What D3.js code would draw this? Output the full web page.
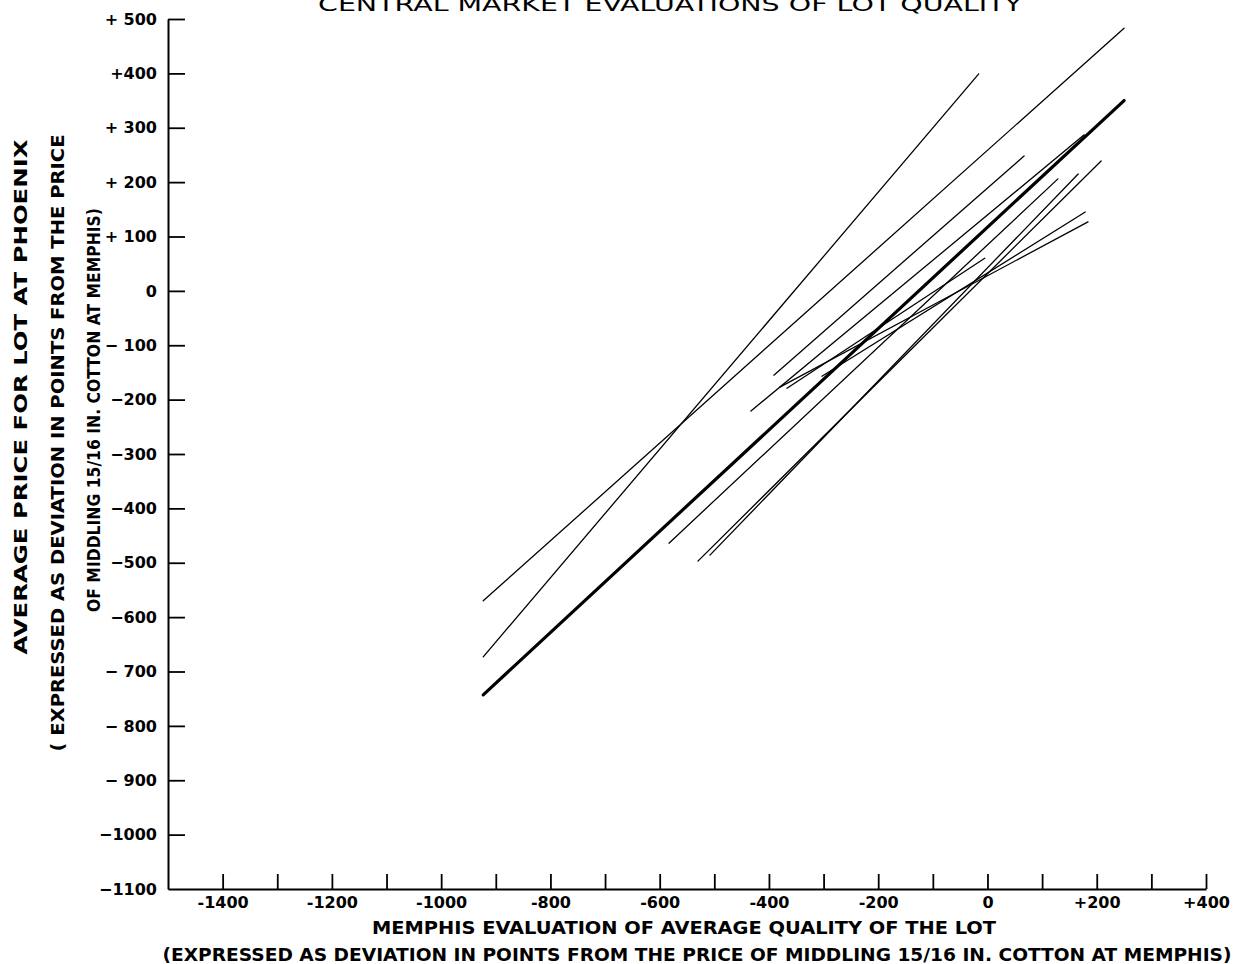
<!DOCTYPE html>
<html>
<head>
<meta charset="utf-8">
<script src="https://cdn.jsdelivr.net/npm/d3@7"></script>
<style>
  body { margin: 0; background: #fff; }
  svg text { font-family: "DejaVu Sans", sans-serif; fill: #000; }
</style>
</head>
<body>
<div id="chart"></div>
<script>
// lots: Memphis evaluation (x) vs Phoenix average price (y), each drawn as a segment
const lotNames = ["All lots", "Lot A", "Lot B", "Lot C", "Lot D", "Lot E", "Lot F", "Lot G", "Lot H", "Lot I", "Lot J"];
const memphisFrom = [-923, -923, -923, -583, -530, -508, -433, -391, -380, -367, -303];
const memphisTo   = [ 250,  250,  -16,  129,  208,  166,  177,   67,  184,   -5,  179];
const phoenixFrom = [-743, -570, -673, -464, -497, -486, -221, -155, -177, -179, -157];
const phoenixTo   = [ 350,  483,  399,  206,  239,  215,  287,  248,  127,   60,  145];

const xTickValues = [-1400, -1300, -1200, -1100, -1000, -900, -800, -700, -600, -500, -400, -300, -200, -100, 0, 100, 200, 300, 400];
const xTickLabels = ["-1400", "", "-1200", "", "-1000", "", "-800", "", "-600", "", "-400", "", "-200", "", "0", "", "+200", "", "+400"];
const yTickValues = [500, 400, 300, 200, 100, 0, -100, -200, -300, -400, -500, -600, -700, -800, -900, -1000, -1100];
const yTickLabels = ["+ 500", "+400", "+ 300", "+ 200", "+ 100", "0", "\u2212 100", "\u2212200", "\u2212300", "\u2212400", "\u2212500", "\u2212600", "\u2212 700", "\u2212 800", "\u2212 900", "\u22121000", "\u22121100"];

const width = 1236, height = 964;

const svg = d3.select("#chart").append("svg")
  .attr("width", width)
  .attr("height", height);

const x = d3.scaleLinear().domain([-1500, 400]).range([168, 1206]);
const y = d3.scaleLinear().domain([-1100, 500]).range([889, 19]);

// x axis, ticks point up into the plot
const xAxis = svg.append("g")
  .attr("transform", `translate(0,${y(-1100)})`)
  .call(d3.axisBottom(x)
    .tickValues(xTickValues)
    .tickSize(-15)
    .tickSizeOuter(0)
    .tickPadding(8)
    .tickFormat((d, i) => xTickLabels[i]));
xAxis.select(".domain").attr("stroke-width", 2);
xAxis.selectAll(".tick line").attr("stroke-width", 1.8);
xAxis.selectAll("text").attr("font-size", 16).attr("font-weight", "bold");

// y axis, ticks point right into the plot
const yAxis = svg.append("g")
  .attr("transform", `translate(${x(-1500)},0)`)
  .call(d3.axisLeft(y)
    .tickValues(yTickValues)
    .tickSize(-17)
    .tickSizeOuter(0)
    .tickPadding(11)
    .tickFormat((d, i) => yTickLabels[i]));
yAxis.select(".domain").attr("stroke-width", 2);
yAxis.selectAll(".tick line").attr("stroke-width", 1.8);
yAxis.selectAll(".tick").filter(d => d === -1100).select("line").remove();
yAxis.selectAll("text").attr("font-size", 16).attr("font-weight", "bold");

// lot lines
const lots = lotNames.map((name, i) => ({
  name: name,
  pts: [[memphisFrom[i], phoenixFrom[i]], [memphisTo[i], phoenixTo[i]]]
}));
const line = d3.line().x(d => x(d[0])).y(d => y(d[1]));

svg.append("g")
  .selectAll("path")
  .data(lots)
  .join("path")
    .attr("d", d => line(d.pts))
    .attr("fill", "none")
    .attr("stroke", "#000")
    .attr("stroke-linecap", "round")
    .attr("stroke-width", d => d.name === "All lots" ? 3.2 : 1.3);

// titles
svg.append("text")
  .attr("x", 670).attr("y", 11)
  .attr("text-anchor", "middle")
  .attr("font-size", 20)
  .attr("textLength", 704).attr("lengthAdjust", "spacingAndGlyphs")
  .text("CENTRAL MARKET EVALUATIONS OF LOT QUALITY");

svg.append("text")
  .attr("x", 684).attr("y", 934)
  .attr("text-anchor", "middle")
  .attr("font-size", 17).attr("font-weight", "bold")
  .attr("textLength", 624).attr("lengthAdjust", "spacingAndGlyphs")
  .text("MEMPHIS EVALUATION OF AVERAGE QUALITY OF THE LOT");

svg.append("text")
  .attr("x", 697).attr("y", 961)
  .attr("text-anchor", "middle")
  .attr("font-size", 17).attr("font-weight", "bold")
  .attr("textLength", 1069).attr("lengthAdjust", "spacingAndGlyphs")
  .text("(EXPRESSED AS DEVIATION IN POINTS FROM THE PRICE OF MIDDLING 15/16 IN. COTTON AT MEMPHIS)");

const yTitles = [
  { t: "AVERAGE PRICE FOR LOT AT PHOENIX", bx: 27, cy: 397, len: 515 },
  { t: "( EXPRESSED AS DEVIATION IN POINTS FROM THE PRICE", bx: 64, cy: 443, len: 617 },
  { t: "OF MIDDLING 15/16 IN. COTTON AT MEMPHIS)", bx: 100, cy: 410, len: 404 }
];
svg.selectAll(".ytitle")
  .data(yTitles)
  .join("text")
    .attr("class", "ytitle")
    .attr("transform", d => `translate(${d.bx},${d.cy}) rotate(-90)`)
    .attr("text-anchor", "middle")
    .attr("font-size", 17).attr("font-weight", "bold")
    .attr("textLength", d => d.len).attr("lengthAdjust", "spacingAndGlyphs")
    .text(d => d.t);
</script>
</body>
</html>
